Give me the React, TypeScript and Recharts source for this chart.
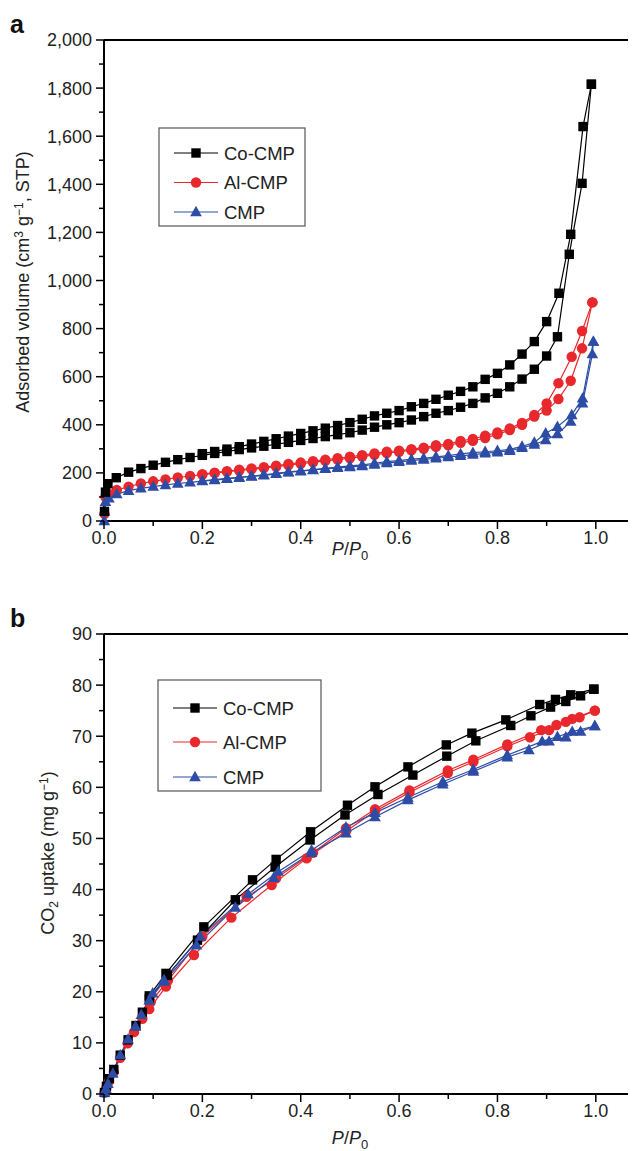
import React from "react"
import { LineChart, Line, XAxis, YAxis, ReferenceLine } from "recharts"

const FONT = '"Liberation Sans", Arial, Helvetica, sans-serif'
const BLACK = "#000000"
const RED = "#e8282c"
const BLUE = "#2d4ca6"

// shared x axis (P/P0)
const X_TICKS = [0, 0.1, 0.2, 0.3, 0.4, 0.5, 0.6, 0.7, 0.8, 0.9, 1.0, 1.1]

// panel a: adsorbed volume (cm3 g-1, STP)
const Y_TICKS_A = [0, 100, 200, 300, 400, 500, 600, 700, 800, 900, 1000, 1100, 1200, 1300, 1400, 1500, 1600, 1700, 1800, 1900, 2000]

const coAdsA = [
  [0.001, 40], [0.003, 120], [0.008, 155], [0.025, 180], [0.05, 203], [0.075, 218], [0.1, 232], [0.125, 244],
  [0.15, 255], [0.175, 264], [0.2, 273], [0.225, 281], [0.25, 289], [0.275, 297], [0.3, 304], [0.325, 311],
  [0.35, 319], [0.375, 327], [0.4, 335], [0.425, 343], [0.45, 351], [0.475, 359], [0.5, 367], [0.525, 378],
  [0.55, 390], [0.575, 400], [0.6, 409], [0.625, 420], [0.65, 434], [0.675, 448], [0.7, 459], [0.725, 473],
  [0.75, 489], [0.775, 512], [0.8, 531], [0.825, 558], [0.85, 590], [0.875, 631], [0.9, 686], [0.922, 766],
  [0.946, 1109], [0.972, 1404], [0.991, 1816],
]
const coDesA = [
  [0.991, 1816], [0.974, 1640], [0.949, 1192], [0.925, 947], [0.9, 829], [0.875, 746], [0.85, 694], [0.825, 649],
  [0.8, 614], [0.775, 589], [0.75, 558], [0.725, 539], [0.7, 523], [0.675, 506], [0.65, 489], [0.625, 475],
  [0.6, 459], [0.575, 448], [0.55, 437], [0.525, 423], [0.5, 409], [0.475, 397], [0.45, 386], [0.425, 375],
  [0.4, 364], [0.375, 353], [0.35, 342], [0.325, 331], [0.3, 320], [0.275, 309], [0.25, 299], [0.225, 289],
  [0.2, 280],
]
const alAdsA = [
  [0.001, 30], [0.003, 100], [0.01, 112], [0.026, 129], [0.05, 143], [0.075, 156], [0.1, 165], [0.125, 173],
  [0.15, 181], [0.175, 187], [0.2, 193], [0.225, 199], [0.25, 205], [0.275, 210], [0.3, 215], [0.325, 220],
  [0.35, 226], [0.375, 232], [0.4, 238], [0.425, 244], [0.45, 250], [0.475, 255], [0.5, 261], [0.525, 268],
  [0.55, 275], [0.575, 282], [0.6, 288], [0.625, 294], [0.65, 300], [0.675, 308], [0.7, 315], [0.725, 325],
  [0.75, 333], [0.775, 345], [0.8, 360], [0.825, 378], [0.85, 400], [0.875, 434], [0.9, 459], [0.924, 507],
  [0.949, 583], [0.972, 718], [0.993, 909],
]
const alDesA = [
  [0.993, 909], [0.972, 790], [0.951, 683], [0.924, 573], [0.9, 489], [0.875, 441], [0.85, 408], [0.825, 385],
  [0.8, 368], [0.775, 355], [0.75, 341], [0.725, 333], [0.7, 320], [0.675, 315], [0.65, 305], [0.625, 299],
  [0.6, 292], [0.575, 288], [0.55, 281], [0.525, 274], [0.5, 267], [0.475, 261], [0.45, 255], [0.425, 249],
  [0.4, 243], [0.375, 237], [0.35, 230], [0.325, 224], [0.3, 219], [0.275, 213], [0.25, 207], [0.225, 201],
  [0.2, 195],
]
const cmpAdsA = [
  [0.0005, 0], [0.001, 40], [0.003, 80], [0.01, 94], [0.026, 112], [0.05, 126], [0.075, 136], [0.1, 143],
  [0.125, 150], [0.15, 156], [0.175, 161], [0.2, 166], [0.225, 170], [0.25, 175], [0.275, 180], [0.3, 185],
  [0.325, 190], [0.35, 196], [0.375, 202], [0.4, 207], [0.425, 212], [0.45, 217], [0.475, 221], [0.5, 224],
  [0.525, 229], [0.55, 235], [0.575, 241], [0.6, 246], [0.625, 251], [0.65, 256], [0.675, 261], [0.7, 266],
  [0.725, 271], [0.75, 276], [0.775, 281], [0.8, 286], [0.825, 292], [0.85, 304], [0.875, 318], [0.898, 337],
  [0.922, 362], [0.949, 413], [0.973, 489], [0.993, 694], [0.995, 746],
]
const cmpDesA = [
  [0.995, 746], [0.973, 510], [0.951, 441], [0.922, 392], [0.898, 365], [0.875, 327], [0.85, 310], [0.825, 298],
  [0.8, 292], [0.775, 288], [0.75, 284], [0.725, 279], [0.7, 272], [0.675, 267], [0.65, 261], [0.625, 257],
  [0.6, 251], [0.575, 247], [0.55, 240], [0.525, 233], [0.5, 229], [0.475, 224], [0.45, 219], [0.425, 214],
  [0.4, 209], [0.375, 204], [0.35, 198], [0.325, 192], [0.3, 187], [0.275, 182], [0.25, 177], [0.225, 172],
  [0.2, 167],
]

// panel b: CO2 uptake (mg g-1)
const Y_TICKS_B = [0, 5, 10, 15, 20, 25, 30, 35, 40, 45, 50, 55, 60, 65, 70, 75, 80, 85, 90]

const coAdsB = [
  [0.001, 0.3], [0.005, 1.5], [0.011, 3.0], [0.02, 4.8], [0.033, 7.6], [0.049, 10.6], [0.065, 13.4], [0.078, 16.0],
  [0.092, 18.6], [0.129, 23.2], [0.19, 30.1], [0.267, 38.0], [0.348, 44.4], [0.419, 49.7], [0.49, 54.6], [0.557, 58.6],
  [0.628, 62.4], [0.697, 66.1], [0.756, 69.1], [0.827, 72.1], [0.868, 74.0], [0.908, 75.7], [0.939, 76.8], [0.969, 77.9],
  [0.996, 79.2],
]
const coDesB = [
  [0.996, 79.2], [0.949, 78.1], [0.918, 77.2], [0.886, 76.2], [0.817, 73.2], [0.748, 70.6], [0.696, 68.3], [0.618, 64.0],
  [0.551, 60.1], [0.495, 56.5], [0.42, 51.3], [0.35, 45.9], [0.302, 41.9], [0.203, 32.7], [0.126, 23.6], [0.092, 19.2],
]
const alAdsB = [
  [0.001, 0.3], [0.005, 1.3], [0.01, 2.5], [0.02, 4.3], [0.033, 7.1], [0.048, 9.9], [0.061, 12.1], [0.078, 14.7],
  [0.092, 16.6], [0.126, 21.0], [0.183, 27.2], [0.259, 34.5], [0.341, 40.9], [0.412, 46.1], [0.492, 51.4], [0.551, 55.3],
  [0.621, 59.0], [0.699, 62.8], [0.751, 65.0], [0.82, 68.0], [0.866, 69.8], [0.905, 71.2], [0.939, 72.8], [0.967, 73.7],
  [0.998, 75.0],
]
const alDesB = [
  [0.998, 75.0], [0.952, 73.4], [0.92, 72.2], [0.889, 71.2], [0.82, 68.4], [0.751, 65.4], [0.699, 63.3], [0.621, 59.4],
  [0.551, 55.7], [0.492, 52.0], [0.425, 47.2], [0.35, 42.2], [0.29, 38.6], [0.2, 30.8], [0.13, 22.2], [0.095, 18.0],
]
const cmpAdsB = [
  [0.001, 0.3], [0.004, 1.0], [0.008, 2.0], [0.018, 4.0], [0.033, 7.6], [0.049, 10.7], [0.064, 13.2], [0.076, 15.5],
  [0.092, 18.3], [0.122, 22.0], [0.188, 29.1], [0.267, 36.5], [0.345, 42.3], [0.422, 47.2], [0.492, 51.0], [0.551, 54.2],
  [0.618, 57.5], [0.689, 60.6], [0.751, 63.1], [0.82, 65.9], [0.864, 67.3], [0.905, 69.0], [0.939, 69.8], [0.969, 70.9],
  [0.998, 72.0],
]
const cmpDesB = [
  [0.998, 72.0], [0.952, 70.9], [0.922, 69.9], [0.891, 69.0], [0.82, 66.3], [0.751, 63.5], [0.689, 61.1], [0.618, 58.0],
  [0.551, 55.0], [0.492, 52.2], [0.422, 47.7], [0.354, 43.5], [0.293, 39.1], [0.196, 30.8], [0.122, 22.3], [0.099, 19.7],
]

const LEGEND = [
  { name: "Co-CMP", color: BLACK, shape: "square" },
  { name: "Al-CMP", color: RED, shape: "circle" },
  { name: "CMP", color: BLUE, shape: "triangle" },
]

const toPoints = (arr: number[][]) => arr.map(([x, y]) => ({ x, y }))

const isMajor = (v: number, step: number) => Math.abs(v / step - Math.round(v / step)) < 1e-6

function Marker({ shape, cx, cy, color }: { shape: string; cx: number; cy: number; color: string }) {
  if (cx == null || cy == null) return null
  if (shape === "square") return <rect x={cx - 4.7} y={cy - 4.7} width={9.4} height={9.4} fill={color} />
  if (shape === "circle") return <circle cx={cx} cy={cy} r={5.2} fill={color} />
  return <polygon points={`${cx},${cy - 6.2} ${cx - 5.8},${cy + 4.2} ${cx + 5.8},${cy + 4.2}`} fill={color} />
}

const makeYTick = (step: number, fmt: (v: number) => string) => (p: any) => {
  const v = p.payload.value
  const major = isMajor(v, step)
  const len = major ? 8 : 5
  return (
    <g>
      <line x1={p.x} y1={p.y} x2={p.x - len} y2={p.y} stroke="#000" strokeWidth={1.5} />
      {major && (
        <text x={p.x - 12} y={p.y} dy="0.36em" textAnchor="end" fontSize={18} fontFamily={FONT} fill="#222">
          {fmt(v)}
        </text>
      )}
    </g>
  )
}

const xTick = (p: any) => {
  const v = p.payload.value
  const major = isMajor(v, 0.2)
  const len = major ? 8 : 5
  return (
    <g>
      <line x1={p.x} y1={p.y} x2={p.x} y2={p.y + len} stroke="#000" strokeWidth={1.5} />
      {major && (
        <text x={p.x} y={p.y + 23} textAnchor="middle" fontSize={18} fontFamily={FONT} fill="#222">
          {v.toFixed(1)}
        </text>
      )}
    </g>
  )
}

type Series = { color: string; shape: string; ads: number[][]; des: number[][] }

function Isotherm({ series, yTicks, yMax, yStep, fmt, top, height }: {
  series: Series[]; yTicks: number[]; yMax: number; yStep: number; fmt: (v: number) => string; top: number; height: number
}) {
  return (
    <LineChart width={642} height={top + height + 50} margin={{ top, right: 5, left: 0, bottom: 0 }}>
      <XAxis
        type="number"
        dataKey="x"
        domain={[0, 1.1]}
        ticks={X_TICKS}
        interval={0}
        tickSize={0}
        tickMargin={0}
        tickLine={false}
        axisLine={{ stroke: "#000", strokeWidth: 2 }}
        tick={xTick}
        height={50}
      />
      <YAxis
        type="number"
        domain={[0, yMax]}
        ticks={yTicks}
        interval={0}
        tickSize={0}
        tickMargin={0}
        tickLine={false}
        axisLine={{ stroke: "#000", strokeWidth: 2 }}
        tick={makeYTick(yStep, fmt)}
        width={96}
      />
      <ReferenceLine y={yMax} stroke="#000" strokeWidth={2} />
      {series.flatMap((s, i) =>
        [s.ads, s.des].map((arr, j) => (
          <Line
            key={`${i}-${j}`}
            data={toPoints(arr)}
            dataKey="y"
            type="linear"
            stroke={s.color}
            strokeWidth={1.2}
            isAnimationActive={false}
            dot={(p: any) => <Marker key={p.index} shape={s.shape} cx={p.cx} cy={p.cy} color={s.color} />}
            activeDot={false}
            legendType="none"
          />
        ))
      )}
    </LineChart>
  )
}

function LegendBox({ x, y, w, h, rows }: { x: number; y: number; w: number; h: number; rows: number[] }) {
  return (
    <g>
      <rect x={x} y={y} width={w} height={h} fill="#fff" stroke="#555" strokeWidth={1.2} />
      {LEGEND.map((s, i) => (
        <g key={s.name}>
          <line x1={x + 15} x2={x + 59} y1={y + rows[i]} y2={y + rows[i]} stroke={s.color} strokeWidth={1} />
          <Marker shape={s.shape} cx={x + 37} cy={y + rows[i]} color={s.color} />
          <text x={x + 65} y={y + rows[i]} dy="0.36em" fontSize={18.5} fontFamily={FONT} fill="#222">
            {s.name}
          </text>
        </g>
      ))}
    </g>
  )
}

function XTitle({ x, y }: { x: number; y: number }) {
  return (
    <text x={x} y={y} textAnchor="middle" fontSize={18} fontFamily={FONT} fill="#222">
      <tspan fontStyle="italic">P</tspan>
      <tspan>/</tspan>
      <tspan fontStyle="italic">P</tspan>
      <tspan fontSize={13} dy={5}>0</tspan>
    </text>
  )
}

export default function App() {
  const seriesA: Series[] = [
    { color: RED, shape: "circle", ads: alAdsA, des: alDesA },
    { color: BLUE, shape: "triangle", ads: cmpAdsA, des: cmpDesA },
    { color: BLACK, shape: "square", ads: coAdsA, des: coDesA },
  ]
  const seriesB: Series[] = [
    { color: RED, shape: "circle", ads: alAdsB, des: alDesB },
    { color: BLACK, shape: "square", ads: coAdsB, des: coDesB },
    { color: BLUE, shape: "triangle", ads: cmpAdsB, des: cmpDesB },
  ]
  return (
    <div style={{ position: "relative", width: 628, height: 1143, overflow: "hidden", background: "#fff" }}>
      <div style={{ position: "absolute", left: 0, top: 0 }}>
        <Isotherm series={seriesA} yTicks={Y_TICKS_A} yMax={2000} yStep={200}
          fmt={(v) => v.toLocaleString("en-US")} top={32} height={481} />
      </div>
      <div style={{ position: "absolute", left: 0, top: 582 }}>
        <Isotherm series={seriesB} yTicks={Y_TICKS_B} yMax={90} yStep={10}
          fmt={(v) => String(v)} top={44} height={460} />
      </div>
      <svg width={628} height={1143} style={{ position: "absolute", left: 0, top: 0, pointerEvents: "none" }}>
        <text x={2} y={25} fontSize={25} fontWeight="bold" fontFamily={FONT} fill="#111">a</text>
        <text x={2} y={619} fontSize={25} fontWeight="bold" fontFamily={FONT} fill="#111">b</text>

        <text transform="translate(21,274) rotate(-90)" textAnchor="middle" fontSize={18} fontFamily={FONT} fill="#222">
          <tspan>Adsorbed volume (cm</tspan>
          <tspan fontSize={12} dy={-6}>3</tspan>
          <tspan dy={6}> g</tspan>
          <tspan fontSize={12} dy={-6}>−1</tspan>
          <tspan dy={6}>, STP)</tspan>
        </text>
        <text transform="translate(46,845) rotate(-90)" textAnchor="middle" fontSize={18} fontFamily={FONT} fill="#222">
          <tspan>CO</tspan>
          <tspan fontSize={12} dy={4}>2</tspan>
          <tspan dy={-4}> uptake (mg g</tspan>
          <tspan fontSize={12} dy={-6}>−1</tspan>
          <tspan dy={6}>)</tspan>
        </text>

        <XTitle x={342} y={547} />
        <XTitle x={342} y={1136} />

        <LegendBox x={151} y={120} w={146} h={98} rows={[25, 54.5, 84]} />
        <LegendBox x={150} y={672} w={163} h={111} rows={[28, 62, 97]} />
      </svg>
    </div>
  )
}
